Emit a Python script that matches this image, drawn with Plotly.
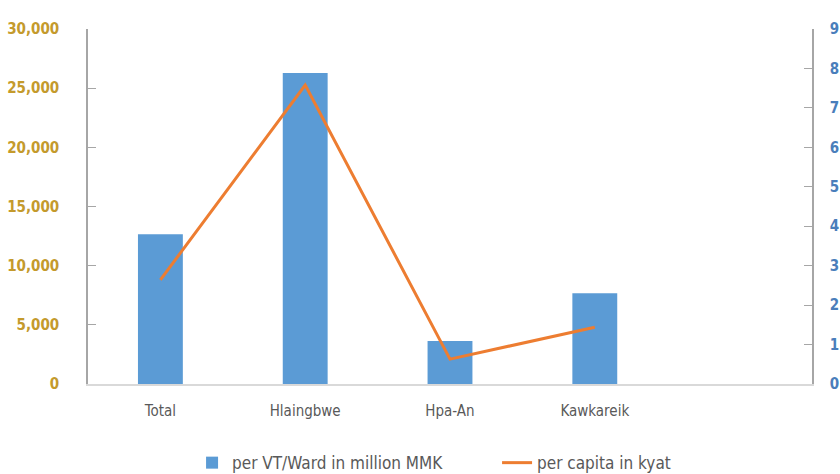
import plotly.graph_objects as go

categories = ["Total", "Hlaingbwe", "Hpa-An", "Kawkareik", " "]
per_vt_ward = [12650, 26280, 3630, 7660, None]
per_capita = [2.64, 7.58, 0.63, 1.44, None]

FONT = "DejaVu Sans Condensed, Liberation Sans Narrow, sans-serif"

fig = go.Figure()
fig.add_trace(go.Bar(
    x=categories, y=per_vt_ward, name="per VT/Ward in million MMK",
    marker=dict(color="#5B9BD5", line=dict(width=0)), yaxis="y",
))
fig.add_trace(go.Scatter(
    x=categories, y=per_capita, name="per capita in kyat", mode="lines",
    line=dict(color="#ED7D31", width=3), yaxis="y2",
))

fig.update_layout(
    width=840, height=474,
    margin=dict(l=88, r=28, t=29, b=90, autoexpand=False),
    plot_bgcolor="white", paper_bgcolor="white",
    bargap=0.69,
    font=dict(family=FONT, color="#595959", size=15),
    xaxis=dict(
        type="category", showline=True, linecolor="#D9D9D9", linewidth=1.5,
        ticks="", showgrid=False, tickfont=dict(size=15, color="#595959"),
        range=[-0.5, 4.5], ticklabelstandoff=12,
    ),
    yaxis=dict(
        range=[0, 30000], dtick=5000, tickformat=",", showgrid=False,
        showline=True, linecolor="#A6A6A6", linewidth=1.5,
        ticks="inside", ticklen=8, tickcolor="#A6A6A6",
        tickfont=dict(size=15, color="#C49A2C", family=FONT, weight="bold"), ticklabelstandoff=24,
        zeroline=False,
    ),
    yaxis2=dict(
        range=[0, 9], dtick=1, overlaying="y", side="right", showgrid=False,
        showline=True, linecolor="#A6A6A6", linewidth=1.5,
        ticks="inside", ticklen=8, tickcolor="#A6A6A6",
        tickfont=dict(size=15, color="#4A7EBB", family=FONT, weight="bold"), ticklabelstandoff=13,
        zeroline=False,
    ),
    legend=dict(
        orientation="h", x=0.565, xanchor="center",
        yref="container", y=0.023, yanchor="middle",
        font=dict(size=17, color="#595959"),
        entrywidth=260, entrywidthmode="pixels",
    ),
    showlegend=True,
)

fig.write_html("out.html")
